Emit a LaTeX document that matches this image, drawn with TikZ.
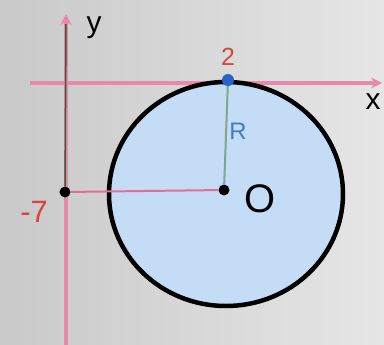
\documentclass[tikz,border=0pt]{standalone}
\usepackage{fontspec}
\setmainfont{Liberation Sans}
\usetikzlibrary{arrows.meta}
\definecolor{bgl}{HTML}{C9C9C9}
\definecolor{bgr}{HTML}{E6E6E6}
\definecolor{axpink}{HTML}{E889AC}
\definecolor{cfill}{HTML}{C4DCF6}
\definecolor{rgreen}{HTML}{7FA88A}
\definecolor{lblred}{HTML}{D8453A}
\definecolor{lblblue}{HTML}{3F7BD0}
\definecolor{ptblue}{HTML}{2A64C8}
\tikzset{
  axis/.style={draw=axpink,line width=3.5bp,-{Stealth[length=11bp,width=11bp]}},
  dot/.style={circle,fill=black,inner sep=0pt,minimum size=11bp},
  lbl/.style={inner sep=0pt,font=\fontsize{#1}{#1}\selectfont},
}
\begin{document}
\begin{tikzpicture}[x=1bp,y=-1bp]
\useasboundingbox (0,0) rectangle (384,345);
\shade[left color=bgl,right color=bgr] (0,0) rectangle (384,345);
% axes
\coordinate (ys) at (66,345);
\coordinate (ye) at (66,14);
\coordinate (xs) at (30,83);
\coordinate (xe) at (382,83);
\draw[axis] (ys) -- (ye);
\draw[axis] (xs) -- (xe);
% circle
\draw[fill=cfill,line width=4.5bp] (226,194) ellipse [x radius=117, y radius=112];
% points
\node[dot] (o) at (224,190) {};
\node[dot] (m7) at (65,192) {};
\node[circle,fill=ptblue,inner sep=0pt,minimum size=12bp] (t) at (228,80) {};
\coordinate (ytop) at (66,24);
\draw[color=black!70!green!60!gray,line width=1.5bp] (ytop) -- (m7);
\draw[rgreen,line width=2bp] (t) -- (o);
\draw[axpink!80!purple,line width=2bp] (m7) -- (o);
% labels
\node[lbl=30] (ly) at (94,28) {y};
\node[lbl=30] (lx) at (373,102) {x};
\node[lbl=25,text=lblred] (l2) at (228,57) {2};
\node[lbl=24,text=lblblue] (lR) at (238,131) {R};
\node[lbl=40] (lO) at (260,199) {O};
\node[lbl=31,text=lblred] (l7) at (34,212) {-7};
\end{tikzpicture}
\end{document}
